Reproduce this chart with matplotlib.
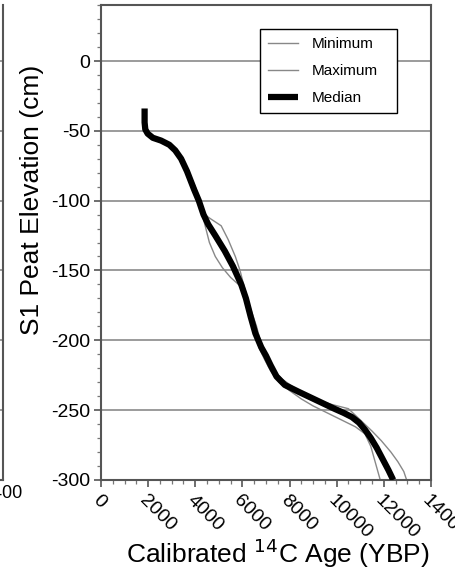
import numpy as np
import matplotlib
matplotlib.use("Agg")
import matplotlib.pyplot as plt
from matplotlib.ticker import MultipleLocator

plt.rcParams['font.family'] = ['Liberation Sans', 'DejaVu Sans']
plt.rcParams['axes.unicode_minus'] = False

# median age-depth curve (age in cal yr BP, elevation in cm)
med_age = [1850, 1850, 1880, 1980, 2200, 2550, 2900, 3150, 3400, 3650, 3950, 4150, 4350,
           4550, 4850, 5250, 5600, 5950, 6150, 6350, 6550, 6800, 7000, 7200, 7450, 7800,
           8400, 8900, 9400, 9900, 10300, 10650, 10950, 11200, 11450, 11700, 11950, 12200, 12400]
med_elev = [-34, -44, -49, -52, -55, -57, -60, -64, -70, -79, -92, -100, -110,
            -117, -125, -136, -147, -160, -170, -183, -195, -205, -211, -218, -226, -232,
            -237, -241, -245, -249, -252, -255, -259, -264, -270, -277, -285, -293, -300]

min_age = [1850, 1900, 2100, 2500, 2850, 3100, 3350, 3600, 3900, 4100, 4300, 4450, 4600,
           4850, 5150, 5500, 5900, 6100, 6300, 6500, 6750, 6950, 7200, 7550, 8000, 8500,
           9000, 9600, 10200, 10800, 11200, 11450, 11600, 11750, 11850]
min_elev = [-40, -50, -54, -57, -60, -64, -70, -79, -90, -100, -110, -120, -130,
            -140, -148, -155, -161, -171, -183, -195, -207, -214, -222, -230, -236, -242,
            -247, -252, -257, -262, -267, -276, -285, -294, -300]

max_age = [1850, 1900, 2150, 2550, 2950, 3200, 3450, 3700, 4000, 4200, 4400, 4650, 5100,
           5400, 5700, 5900, 6050, 6300, 6600, 6800, 7000, 7250, 7700, 8200, 8700, 9200,
           9800, 10500, 11000, 11500, 11900, 12300, 12600, 12850, 12970]
max_elev = [-40, -50, -54, -57, -60, -64, -70, -79, -90, -100, -110, -113, -118,
            -128, -140, -150, -160, -175, -190, -203, -211, -220, -228, -234, -239, -243,
            -246, -249, -257, -265, -272, -280, -287, -294, -300]

fig = plt.figure(figsize=(4.55, 5.72), dpi=100)

# sliver of the neighbouring panel on the left
axn = fig.add_axes([-0.3, 0.161, 0.3066, 0.830])
axn.set_xlim(0, 14000)
axn.set_ylim(-300, 40)
for v in [0, -50, -100, -150, -200, -250]:
    axn.axhline(v, color='#8a8a8a', lw=1.2)
axn.set_yticks([])
axn.set_xticks([14000])
axn.set_xticklabels(['1400'], fontsize=13)
axn.tick_params(axis='x', length=0, pad=4)
for s in ['left', 'top']:
    axn.spines[s].set_visible(False)
for s in ['right', 'bottom']:
    axn.spines[s].set_color('#555555')
    axn.spines[s].set_linewidth(1.5)

ax = fig.add_axes([0.222, 0.161, 0.725, 0.830])
for v in [0, -50, -100, -150, -200, -250]:
    ax.axhline(v, color='#8a8a8a', lw=1.2, zorder=1)

ax.plot(min_age, min_elev, color='#888888', lw=1.0, label='Minimum', zorder=2)
ax.plot(max_age, max_elev, color='#888888', lw=1.0, label='Maximum', zorder=2)
ax.plot(med_age, med_elev, color='black', lw=4.5, label='Median', zorder=3,
        solid_capstyle='butt', solid_joinstyle='round')

ax.set_xlim(0, 14000)
ax.set_ylim(-300, 40)
ax.xaxis.set_major_locator(MultipleLocator(2000))
ax.xaxis.set_minor_locator(MultipleLocator(500))
ax.set_yticks([0, -50, -100, -150, -200, -250, -300])
ax.yaxis.set_minor_locator(MultipleLocator(10))
ax.tick_params(which='major', length=5, width=1.2, color='#555555', labelsize=14)
ax.tick_params(which='minor', length=3, width=0.9, color='#777777')
ax.tick_params(axis='y', pad=3)

ax.set_xticklabels([str(int(t)) for t in ax.get_xticks()], rotation=-45,
                   ha='left', va='top', rotation_mode='anchor')

for s in ax.spines.values():
    s.set_color('#555555')
    s.set_linewidth(1.5)

ax.set_ylabel('S1 Peat Elevation (cm)', fontsize=19, va='center')
ax.yaxis.set_label_coords(-0.21, 0.589)
ax.set_xlabel('Calibrated $^{14}$C Age (YBP)', fontsize=19, va='center')
ax.xaxis.set_label_coords(0.535, -0.154)

leg = ax.legend(loc='upper left', bbox_to_anchor=(0.482, 0.7, 0.415, 0.249),
                mode='expand', fontsize=11,
                frameon=True, fancybox=False, framealpha=1, edgecolor='black',
                labelspacing=0.85, handlelength=2.0, handletextpad=0.9, borderpad=0.5,
                borderaxespad=0)
leg.get_frame().set_linewidth(1.0)

fig.savefig('out.png', dpi=100)
